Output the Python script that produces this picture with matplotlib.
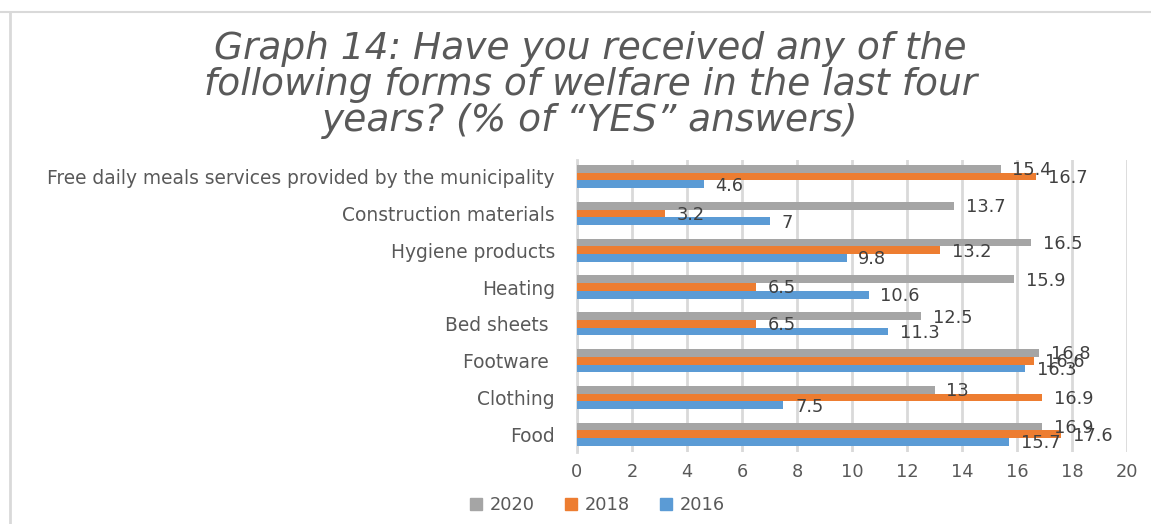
import matplotlib
matplotlib.use("Agg")
import matplotlib.pyplot as plt
from matplotlib.lines import Line2D
import numpy as np

categories = [
    "Food",
    "Clothing",
    "Footware ",
    "Bed sheets ",
    "Heating",
    "Hygiene products",
    "Construction materials",
    "Free daily meals services provided by the municipality",
]
values_2016 = [15.7, 7.5, 16.3, 11.3, 10.6, 9.8, 7, 4.6]
values_2018 = [17.6, 16.9, 16.6, 6.5, 6.5, 13.2, 3.2, 16.7]
values_2020 = [16.9, 13, 16.8, 12.5, 15.9, 16.5, 13.7, 15.4]
x_ticks = [0, 2, 4, 6, 8, 10, 12, 14, 16, 18, 20]

title = "Graph 14: Have you received any of the\nfollowing forms of welfare in the last four\nyears? (% of \u201cYES\u201d answers)"

C_2016 = "#5B9BD5"
C_2018 = "#ED7D31"
C_2020 = "#A5A5A5"
TEXT = "#595959"
GRID = "#D9D9D9"
FS = 12.8

plt.rcParams["font.family"] = ["DejaVu Sans"]

fig = plt.figure(figsize=(11.51, 5.24), dpi=100)
ax = fig.add_axes([577 / 1151, 1 - 452 / 524, (1127 - 577) / 1151, (452 - 160) / 524])

y = np.arange(len(categories))
h = 0.21
series = [
    (values_2020, C_2020, "2020", h),
    (values_2018, C_2018, "2018", 0.0),
    (values_2016, C_2016, "2016", -h),
]
for vals, col, lab, off in series:
    bars = ax.barh(y + off, vals, height=h, color=col, label=lab, zorder=3)
    for b, v in zip(bars, vals):
        txt = f"{v:g}"
        ax.annotate(txt, (b.get_width(), b.get_y() + b.get_height() / 2),
                    xytext=(8.5, -1), textcoords="offset points",
                    ha="left", va="center", fontsize=FS, color="#404040", zorder=4)

ax.set_xlim(0, 20)
ax.set_ylim(-0.48, 7.45)
ax.set_xticks(x_ticks)
ax.set_xticklabels([str(t) for t in x_ticks])
ax.set_yticks(y)
ax.set_yticklabels(categories, fontsize=13.4)
ax.tick_params(axis="both", length=0, colors=TEXT)
ax.tick_params(axis="x", pad=8, labelsize=FS)
ax.tick_params(axis="y", pad=16)
ax.xaxis.grid(True, color=GRID, linewidth=2, zorder=0)
for s in ["top", "right", "bottom"]:
    ax.spines[s].set_visible(False)
ax.spines["left"].set_color(GRID)
ax.spines["left"].set_linewidth(2)
ax.set_facecolor("white")

fig.text(0.513, 1 - 85 / 524, title, ha="center", va="center", fontsize=27,
         style="italic", color=TEXT, linespacing=1.0)

handles = [Line2D([], [], marker="s", linestyle="", markersize=9, color=c) for c in (C_2020, C_2018, C_2016)]
fig.legend(handles, ["2020", "2018", "2016"], loc="center", bbox_to_anchor=(596 / 1151, 1 - 505 / 524),
           ncol=3, frameon=False, fontsize=FS, labelcolor=TEXT, handletextpad=0.3,
           columnspacing=1.5, handlelength=1.0)

# outer frame lines
fig.add_artist(Line2D([10 / 1151, 10 / 1151], [0, 1 - 12 / 524], transform=fig.transFigure, color=GRID, linewidth=2))
fig.add_artist(Line2D([0, 1], [1 - 12 / 524, 1 - 12 / 524], transform=fig.transFigure, color=GRID, linewidth=1.5))

fig.savefig("out.png", dpi=100, facecolor="white")
